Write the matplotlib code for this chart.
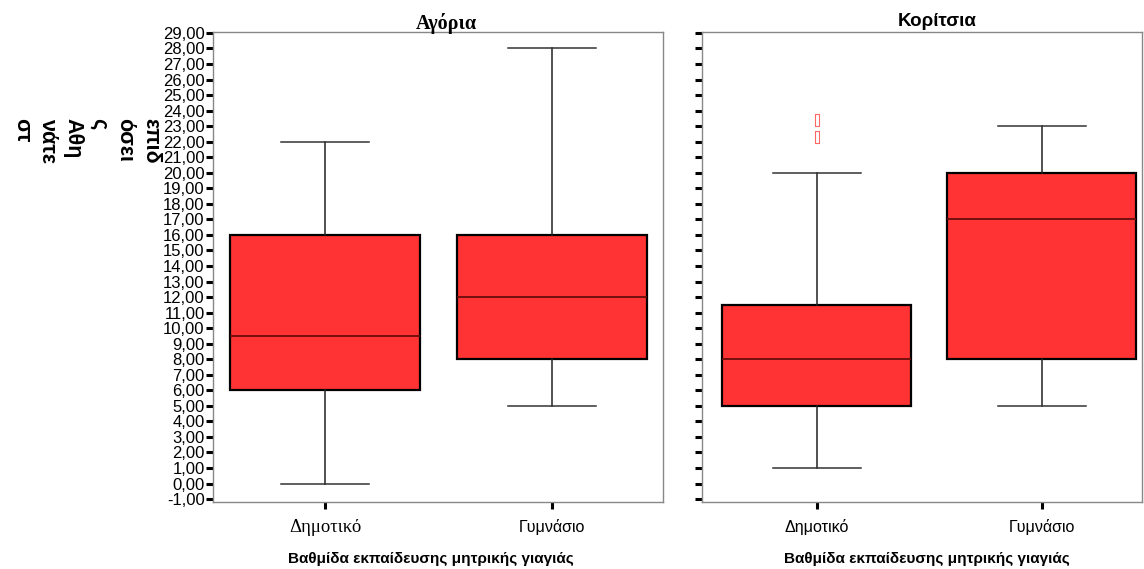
import matplotlib
matplotlib.use('Agg')
import matplotlib.pyplot as plt

# data
groups = ['Δημοτικό', 'Γυμνάσιο']

boys_low = [0, 5]
boys_q1 = [6, 8]
boys_med = [9.5, 12]
boys_q3 = [16, 16]
boys_high = [22, 28]
boys_out = [[], []]

girls_low = [1, 5]
girls_q1 = [5, 8]
girls_med = [8, 17]
girls_q3 = [11.5, 20]
girls_high = [20, 23]
girls_out = [[23.4, 22.3], []]

yticks = list(range(-1, 30))
ytick_labels = [f'{v},00' for v in yticks]

plt.rcParams['font.family'] = ['Liberation Sans', 'DejaVu Sans']


def make_stats(low, q1, med, q3, high, out):
    stats = []
    for i in range(len(groups)):
        stats.append({'label': groups[i], 'whislo': low[i], 'q1': q1[i], 'med': med[i],
                      'q3': q3[i], 'whishi': high[i], 'fliers': out[i]})
    return stats


rect = [(-0.4, -1), (0.4, -1), (0.4, 1), (-0.4, 1), (-0.4, -1)]

fig = plt.figure(figsize=(11.44, 5.69), dpi=100)
W, H = 1144, 569
ax1 = fig.add_axes([213 / W, 1 - 502 / H, 450 / W, 470 / H])
ax2 = fig.add_axes([702 / W, 1 - 502 / H, 440 / W, 470 / H])

panels = [(ax1, make_stats(boys_low, boys_q1, boys_med, boys_q3, boys_high, boys_out)),
          (ax2, make_stats(girls_low, girls_q1, girls_med, girls_q3, girls_high, girls_out))]

for ax, st in panels:
    ax.bxp(st, positions=[1, 2], widths=0.84, capwidths=0.39, patch_artist=True,
           boxprops=dict(facecolor='#ff3333', edgecolor='black', linewidth=1.6),
           whiskerprops=dict(color='#222222', linewidth=1.1),
           capprops=dict(color='#333333', linewidth=1.1),
           medianprops=dict(color='#6a0c0c', linewidth=1.3),
           flierprops=dict(marker=rect, markersize=8, markerfacecolor='none',
                           markeredgecolor='#ff6666', markeredgewidth=0.8))
    ax.set_ylim(-1.19, 29.06)
    ax.set_yticks(yticks)
    ax.set_xticks([1, 2])
    for s in ax.spines.values():
        s.set_color('#888888')
        s.set_linewidth(1.0)
    ax.tick_params(axis='y', direction='out', length=5, width=2.2, color='black',
                   labelsize=12, pad=1)
    ax.tick_params(axis='x', direction='out', length=5, width=2.2, color='black',
                   labelsize=11.5, pad=7)

ax1.set_xlim(0.507, 2.489)
ax2.set_xlim(0.49, 2.445)
ax1.set_yticklabels(ytick_labels)
ax2.set_yticklabels([])

ax1.set_xticklabels(groups)
first = ax1.get_xticklabels()[0]
first.set_family('Liberation Serif')
first.set_fontsize(13.5)
ax2.set_xticklabels(groups)

# titles
fig.text(446 / W, 1 - 23 / H, 'Αγόρια', ha='center', va='center', fontsize=14.5,
         fontweight='bold', family='Liberation Serif')
fig.text(937 / W, 1 - 21 / H, 'Κορίτσια', ha='center', va='center', fontsize=13.5,
         fontweight='bold')

# x axis titles
xlabel = 'Βαθμίδα εκπαίδευσης μητρικής γιαγιάς'
fig.text(431 / W, 1 - 559 / H, xlabel, ha='center', va='center', fontsize=11,
         fontweight='bold')
fig.text(927 / W, 1 - 559 / H, xlabel, ha='center', va='center', fontsize=11,
         fontweight='bold')

# broken vertical y axis title
fig.text(86 / W, 1 - 118 / H, 'επιδ\nόσει\nς\nΑθη\nνάτε\nστ', rotation=-90,
         ha='center', va='top', multialignment='left', fontsize=15.5,
         fontweight='bold', linespacing=1.3)

fig.savefig('out.png', dpi=100)
